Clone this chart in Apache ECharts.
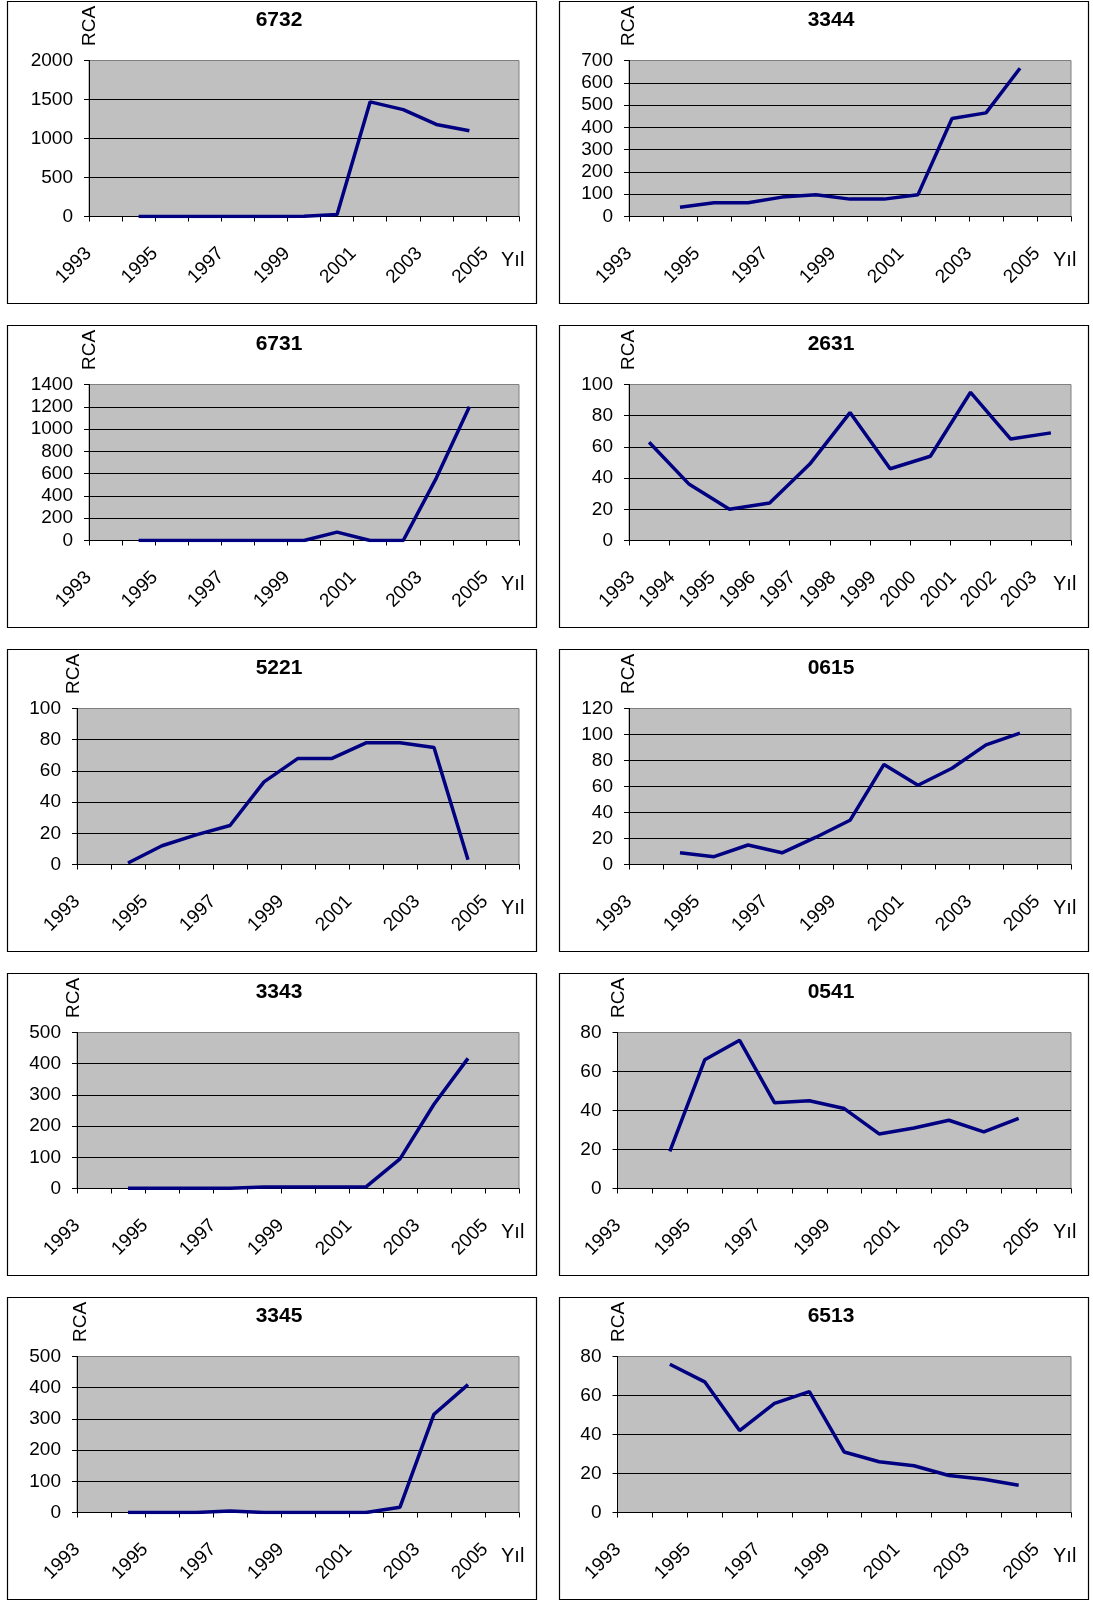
<!DOCTYPE html>
<html><head><meta charset="utf-8">
<script src="https://cdn.jsdelivr.net/npm/echarts@6/dist/echarts.min.js"></script>
<style>html,body{margin:0;padding:0;background:#fff}#c{width:1093px;height:1601px}</style>
</head><body><div id="c"></div>
<script>
// ---- data ----
const years13 = ['1993','1994','1995','1996','1997','1998','1999','2000','2001','2002','2003','2004','2005'];
const years11 = ['1993','1994','1995','1996','1997','1998','1999','2000','2001','2002','2003'];
const titles = ['6732','3344','6731','2631','5221','0615','3343','0541','3345','6513'];
const yMax  = [2000, 700, 1400, 100, 100, 120, 500, 80, 500, 80];
const yStep = [500, 100, 200, 20, 20, 20, 100, 20, 100, 20];

const rca6732 = [null, 0, 0, 0, 0, 0, 2, 25, 1470, 1370, 1180, 1100, null];
const rca3344 = [null, 42, 62, 62, 87, 98, 78, 78, 98, 440, 465, 665, null];
const rca6731 = [null, 0, 0, 0, 0, 0, 0, 75, 0, 0, 560, 1200, null];
const rca2631 = [63, 36, 20, 24, 49, 82, 46, 54, 95, 65, 69];
const rca5221 = [null, 1, 12, 19, 25, 53, 68, 68, 78, 78, 75, 3, null];
const rca0615 = [null, 9, 6, 15, 9, 21, 34, 77, 61, 74, 92, 101, null];
const rca3343 = [null, 1, 1, 1, 1, 5, 5, 5, 5, 95, 270, 417, null];
const rca0541 = [null, 19, 66, 76, 44, 45, 41, 28, 31, 35, 29, 36, null];
const rca3345 = [null, 0, 0, 0, 5, 0, 0, 0, 0, 17, 315, 410, null];
const rca6513 = [null, 76, 67, 42, 56, 62, 31, 26, 24, 19, 17, 14, null];

const seriesData = [rca6732, rca3344, rca6731, rca2631, rca5221, rca0615, rca3343, rca0541, rca3345, rca6513];
const cats = [years13, years13, years13, years11, years13, years13, years13, years13, years13, years13];
const labelEvery = [1, 1, 1, 0, 1, 1, 1, 1, 1, 1];

// ---- layout ----
const colX = [7, 559];
const rowY = [1, 325, 649, 973, 1297];
const PW = 530, PH = 303;
const plotLeft = [82, 70, 82, 70, 70, 70, 70, 58.5, 70, 58.5];
const rcaX = [83, 69.5, 83, 69.5, 67, 69.5, 67, 60, 74, 60];
const FONT = '"Liberation Sans", Arial, sans-serif';

const grid = [], xAxis = [], yAxis = [], series = [], graphic = [];
titles.forEach((t, i) => {
  const col = i % 2, row = Math.floor(i / 2);
  const x0 = colX[col], y0 = rowY[row];
  grid.push({
    left: x0 + plotLeft[i], top: y0 + 59.5, width: 512 - plotLeft[i], height: 156,
    show: true, backgroundColor: '#C0C0C0', borderColor: '#808080', borderWidth: 1,
    containLabel: false, outerBoundsMode: 'none'
  });
  xAxis.push({
    type: 'category', gridIndex: i, data: cats[i], boundaryGap: true,
    axisLine: { show: true, lineStyle: { color: '#000', width: 1 } },
    axisTick: { show: true, interval: 0, length: 5, alignWithLabel: false, lineStyle: { color: '#000' } },
    axisLabel: { interval: labelEvery[i], rotate: 45, margin: 17, padding: [0, 24, 0, 0],
      color: '#000', fontFamily: FONT, fontSize: 19, hideOverlap: false },
    splitLine: { show: false }
  });
  yAxis.push({
    type: 'value', gridIndex: i, min: 0, max: yMax[i], interval: yStep[i],
    axisLine: { show: true, lineStyle: { color: '#000', width: 1 } },
    axisTick: { show: true, length: 5, lineStyle: { color: '#000' } },
    axisLabel: { margin: 16, color: '#000', fontFamily: FONT, fontSize: 19,
      formatter: v => String(v) },
    splitLine: { show: true, showMaxLine: false, lineStyle: { color: '#000', width: 1 } }
  });
  series.push({
    type: 'line', xAxisIndex: i, yAxisIndex: i, data: seriesData[i],
    symbol: 'none', connectNulls: false, silent: true,
    lineStyle: { color: '#000080', width: 3.5 }, itemStyle: { color: '#000080' }
  });
  graphic.push({
    type: 'rect', shape: { x: x0 + 0.5, y: y0 + 0.5, width: PW - 1, height: PH - 1 },
    style: { fill: 'none', stroke: '#000', lineWidth: 1.2 }, silent: true
  });
  graphic.push({
    type: 'text', x: x0 + 272, y: y0 + 19,
    style: { text: t, align: 'center', verticalAlign: 'middle', font: 'bold 21px ' + FONT, fill: '#000' }
  });
  graphic.push({
    type: 'text', x: x0 + rcaX[i], y: y0 + 25, rotation: Math.PI / 2,
    style: { text: 'RCA', align: 'center', verticalAlign: 'middle', font: '19px ' + FONT, fill: '#000' }
  });
  graphic.push({
    type: 'text', x: x0 + 494, y: y0 + 259,
    style: { text: 'Yıl', align: 'left', verticalAlign: 'middle', font: '20px ' + FONT, fill: '#000' }
  });
});

const chart = echarts.init(document.getElementById('c'), null, { renderer: 'canvas' });
chart.setOption({
  animation: false,
  backgroundColor: '#fff',
  grid, xAxis, yAxis, series, graphic
});
</script></body></html>
